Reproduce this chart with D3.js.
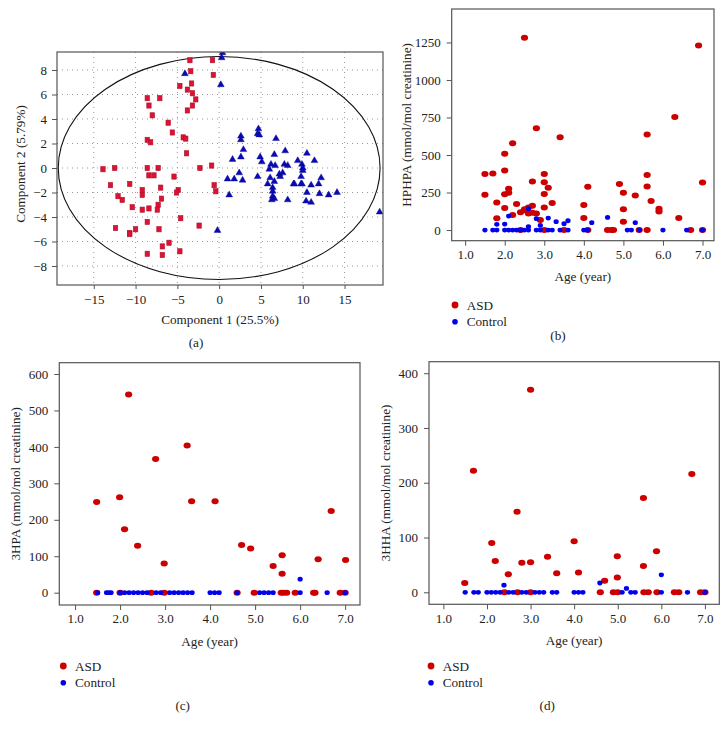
<!DOCTYPE html>
<html><head><meta charset="utf-8">
<script src="https://cdn.jsdelivr.net/npm/d3@7"></script>
<style>body{margin:0;background:#fff}svg{display:block}text{font-family:"Liberation Serif","Times New Roman",serif;fill:#222}</style>
</head><body><svg id="c" width="728" height="731"></svg>
<script>
// ---------- DATA ----------
// Panel (a): PCA scores [component1, component2]
const pcaASD = [[-3.5,8.8],[-0.8,8.8],[-3.4,7.9],[-0.7,7.6],[-3.3,6.9],[-4.7,6.7],[-3.8,6.4],[-3.2,6.1],[-2.8,5.6],[-8.6,5.7],[-7.1,5.7],[-8.4,5.1],[-3.2,5.1],[-3.8,4.7],[-8.0,4.3],[-6.1,3.7],[-5.6,2.9],[-4.3,2.5],[-4.0,2.4],[-8.6,2.3],[-8.2,2.1],[-3.9,1.2],[-13.9,-0.1],[-12.5,0.0],[-8.6,0.0],[-7.3,0.0],[-2.3,0.0],[-0.9,0.2],[-13.0,-1.4],[-10.7,-1.3],[-8.4,-0.6],[-7.8,-0.6],[-5.4,-0.7],[-7.0,-1.6],[-9.2,-1.8],[-9.2,-2.2],[-4.9,-1.8],[-5.1,-2.0],[-0.6,-1.4],[-0.4,-1.9],[-12.1,-2.3],[-11.6,-2.6],[-6.9,-2.5],[-10.4,-3.2],[-9.2,-3.4],[-8.4,-3.3],[-7.3,-3.0],[-7.4,-3.4],[-4.6,-4.1],[-8.6,-4.4],[-2.4,-4.7],[-12.4,-4.9],[-10.0,-5.0],[-10.7,-5.3],[-10.7,-5.4],[-7.2,-5.0],[-6.0,-6.1],[-6.8,-6.4],[-8.6,-7.0],[-6.8,-7.1],[-4.7,-6.8]];
const pcaControl = [[0.4,9.4],[0.3,9.0],[-4.1,7.7],[0.2,6.8],[-0.2,-5.1],[19.2,-3.6],[4.7,3.2],[4.6,2.8],[4.8,2.7],[2.6,2.6],[2.6,2.3],[6.8,2.4],[2.9,1.5],[1.6,0.7],[2.6,0.9],[4.9,0.9],[5.1,0.5],[6.6,1.1],[7.9,1.4],[10.5,1.2],[9.4,0.6],[11.4,0.6],[6.2,0.3],[6.7,0.2],[7.8,0.3],[8.2,0.2],[9.9,0.3],[10.0,0.0],[10.0,-0.2],[6.0,-0.1],[1.0,-0.9],[1.8,-0.9],[2.8,-1.0],[2.4,-0.4],[4.6,-0.7],[6.1,-0.8],[7.2,-0.5],[7.6,-0.4],[7.3,-0.7],[6.6,-1.1],[5.8,-1.3],[6.4,-1.6],[6.4,-1.9],[6.4,-2.3],[6.6,-2.5],[6.3,-2.6],[8.9,-1.3],[9.0,-1.3],[9.8,-1.3],[9.8,-0.7],[9.9,-1.3],[11.0,-1.4],[12.2,-0.8],[11.9,-1.3],[10.5,-2.0],[12.0,-2.1],[13.1,-2.2],[14.1,-2.0],[8.2,-2.6],[10.4,-2.7],[11.0,-2.8],[1.2,-2.2]];
const pcaXTicks = [-15,-10,-5,0,5,10,15];
const pcaYTicks = [-8,-6,-4,-2,0,2,4,6,8];
const pcaEllipse = {rx:19.25, ry:9.1};

// Panel (b): HPHPA [age, value]
const hphpaASD = [[2.5,1282],[6.9,1229],[6.3,753],[2.8,678],[3.4,618],[2.2,578],[2.0,509],[5.6,636],[1.5,373],[1.7,376],[2.0,396],[3.0,373],[5.6,367],[4.9,307],[7.0,316],[1.5,236],[2.0,238],[2.1,276],[2.1,249],[2.7,324],[3.0,318],[3.0,240],[3.1,282],[4.1,289],[5.0,249],[5.3,231],[5.6,291],[5.7,193],[1.8,184],[2.0,147],[2.3,173],[3.2,180],[2.7,162],[2.6,151],[3.0,151],[4.0,167],[5.9,142],[5.9,124],[5.0,138],[1.8,78],[2.2,100],[2.4,118],[2.5,138],[2.6,111],[2.7,116],[2.8,111],[2.9,67],[4.0,80],[5.0,56],[6.4,80],[2.55,131],[3.0,0],[3.5,0],[4.1,0],[4.6,0],[4.7,0],[4.75,0],[5.4,0],[5.6,0],[6.7,0],[7.0,0],[2.4,0]];
const hphpaControl = [[1.5,0],[1.7,0],[1.8,0],[2.0,0],[2.1,0],[2.2,0],[2.3,0],[2.4,0],[2.5,0],[2.6,0],[2.8,0],[2.9,0],[3.1,0],[3.2,0],[3.4,0],[3.6,0],[4.0,0],[4.1,0],[5.1,0],[5.2,0],[5.4,0],[6.0,0],[6.6,0],[7.0,0],[1.8,38],[2.0,40],[2.1,93],[2.6,142],[2.6,22],[2.8,76],[2.9,31],[3.1,80],[3.3,56],[3.5,42],[3.6,62],[4.2,49],[4.6,84],[5.3,49]];
const hphpaYTicks = [0,250,500,750,1000,1250];

// Panel (c): 3HPA [age, value]
const hpaASD = [[2.19,544],[3.49,404],[2.79,367],[1.99,262],[1.48,249],[3.59,251],[4.11,251],[2.1,174],[2.39,129],[6.69,224],[2.98,80],[4.7,131],[4.9,121],[5.6,103],[5.4,73],[5.6,52],[6.4,92],[7.01,90],[1.48,0],[2.0,0],[2.69,0],[2.98,0],[4.6,0],[4.98,0],[5.58,0],[5.63,0],[5.7,0],[5.89,0],[6.3,0],[6.33,0],[6.89,0],[7.0,0]];
const hpaControl = [[1.5,0],[1.7,0],[1.75,0],[1.8,0],[2.0,0],[2.1,0],[2.2,0],[2.3,0],[2.4,0],[2.5,0],[2.6,0],[2.8,0],[2.9,0],[3.1,0],[3.2,0],[3.3,0],[3.4,0],[3.5,0],[3.6,0],[4.0,0],[4.1,0],[4.2,0],[4.6,0],[5.1,0],[5.2,0],[5.3,0],[5.4,0],[6.0,0],[6.6,0],[7.0,0],[6.0,37]];
const hpaYTicks = [0,100,200,300,400,500,600];

// Panel (d): 3HHA [age, value]
const hhaASD = [[3.0,370],[1.69,222],[6.7,216],[5.59,172],[2.69,147],[2.11,90],[4.0,93],[2.19,57],[2.8,54],[3.0,55],[3.39,65],[4.99,66],[5.89,75],[5.59,48],[2.49,33],[3.6,35],[4.1,36],[4.99,27],[4.7,21],[1.49,17],[2.4,0],[2.7,0],[3.0,0],[4.6,0],[4.9,0],[5.0,0],[5.6,0],[5.7,0],[5.9,0],[6.3,0],[6.4,0],[6.9,0],[7.0,0]];
const hhaControl = [[1.5,0],[1.7,0],[1.8,0],[2.0,0],[2.1,0],[2.2,0],[2.3,0],[2.5,0],[2.6,0],[2.8,0],[2.9,0],[3.1,0],[3.2,0],[3.3,0],[3.5,0],[3.6,0],[4.0,0],[4.1,0],[4.2,0],[5.1,0],[5.3,0],[5.4,0],[6.0,0],[6.6,0],[7.0,0],[2.39,13],[4.59,17],[5.2,7],[6.0,32]];
const hhaYTicks = [0,100,200,300,400];

const ageTicks = [1,2,3,4,5,6,7];
const legendLabels = ["ASD","Control"];
const colASD = "#cc0000", colCtrl = "#0000ee";

// ---------- DRAW ----------
const svg = d3.select("#c");
const frameCol = "#555";
const FONT = "Liberation Serif";

function styleAxis(a){
  a.attr("font-family",FONT).attr("font-size",13);
  a.select(".domain").remove();
  a.selectAll("line").attr("stroke",frameCol);
  a.selectAll("text").attr("fill","#222").style("font-family",FONT).style("font-size","13px");
}
const minusFmt = d=>d<0?"\u2212"+Math.abs(d):String(d);

// Panel (a)
(function(){
  const x = d3.scaleLinear().domain([-19.4,19.6]).range([57,383]);
  const y = d3.scaleLinear().domain([-9.55,9.47]).range([285,52]);
  const g = svg.append("g");
  g.append("defs").append("clipPath").attr("id","clipA").append("rect")
    .attr("x",57).attr("y",52).attr("width",326).attr("height",233);
  g.selectAll(".gx").data(pcaXTicks).join("line").attr("class","gx")
    .attr("x1",d=>x(d)).attr("x2",d=>x(d)).attr("y1",52).attr("y2",285)
    .attr("stroke","#999").attr("stroke-width",1).attr("stroke-dasharray","1,4");
  g.selectAll(".gy").data(pcaYTicks).join("line").attr("class","gy")
    .attr("y1",d=>y(d)).attr("y2",d=>y(d)).attr("x1",57).attr("x2",383)
    .attr("stroke","#999").attr("stroke-width",1).attr("stroke-dasharray","1,4");
  const ax = g.append("g").attr("transform","translate(0,285)")
    .call(d3.axisBottom(x).tickValues(pcaXTicks).tickSize(4).tickPadding(6).tickFormat(minusFmt));
  const ay = g.append("g").attr("transform","translate(57,0)")
    .call(d3.axisLeft(y).tickValues(pcaYTicks).tickSize(5).tickPadding(5).tickFormat(minusFmt));
  styleAxis(ax); styleAxis(ay);
  g.append("ellipse").attr("cx",x(0)).attr("cy",y(0))
    .attr("rx",x(pcaEllipse.rx)-x(0)).attr("ry",y(0)-y(pcaEllipse.ry))
    .attr("fill","none").attr("stroke","#111").attr("stroke-width",1.1);
  const pts = g.append("g").attr("clip-path","url(#clipA)");
  pts.selectAll("rect").data(pcaASD).join("rect")
    .attr("x",d=>x(d[0])-2.2).attr("y",d=>y(d[1])-2.6).attr("width",4.4).attr("height",5.2)
    .attr("fill","#dd1133").attr("stroke","#b0102a").attr("stroke-width",0.6);
  const tri = d3.symbol().type(d3.symbolTriangle).size(20);
  pts.selectAll("path").data(pcaControl).join("path")
    .attr("d",tri).attr("transform",d=>`translate(${x(d[0])},${y(d[1])})`)
    .attr("fill","#0a0ab0").attr("stroke","#0000a0").attr("stroke-width",0.4);
  g.append("rect").attr("x",57).attr("y",52).attr("width",326).attr("height",233)
    .attr("fill","none").attr("stroke",frameCol).attr("stroke-width",1.2);
  g.append("text").attr("x",220).attr("y",323.5).attr("text-anchor","middle").style("font-size","13.2px").text("Component 1 (25.5%)");
  g.append("text").attr("transform","translate(24.5,164) rotate(-90)").attr("text-anchor","middle").style("font-size","13.2px").text("Component 2 (5.79%)");
  g.append("text").attr("x",196).attr("y",347).attr("text-anchor","middle").style("font-size","13.2px").text("(a)");
})();

function scatterPanel(o){
  const x = d3.scaleLinear().domain(o.xd).range([o.l,o.r]);
  const y = d3.scaleLinear().domain(o.yd).range([o.b,o.t]);
  const g = svg.append("g");
  const ax = g.append("g").attr("transform",`translate(0,${o.b})`)
    .call(d3.axisBottom(x).tickValues(ageTicks).tickSize(5).tickPadding(4).tickFormat(d3.format(".1f")));
  const ay = g.append("g").attr("transform",`translate(${o.l},0)`)
    .call(d3.axisLeft(y).tickValues(o.yt).tickSize(5).tickPadding(6).tickFormat(d3.format("d")));
  styleAxis(ax); styleAxis(ay);
  g.selectAll(".asd").data(o.asd).join("ellipse").attr("class","asd")
    .attr("cx",d=>x(d[0])).attr("cy",d=>y(d[1])).attr("rx",3.6).attr("ry",3.0).attr("fill",colASD);
  g.selectAll(".ctl").data(o.ctl).join("ellipse").attr("class","ctl")
    .attr("cx",d=>x(d[0])).attr("cy",d=>y(d[1])).attr("rx",2.6).attr("ry",2.4).attr("fill",colCtrl);
  g.append("rect").attr("x",o.l).attr("y",o.t).attr("width",o.r-o.l).attr("height",o.b-o.t)
    .attr("fill","none").attr("stroke",frameCol).attr("stroke-width",1.2);
  g.append("text").attr("x",(o.l+o.r)/2).attr("y",o.b+40.5).attr("text-anchor","middle").style("font-size","13.2px").text("Age (year)");
  g.append("text").attr("transform",`translate(${o.ylx},${(o.t+o.b)/2}) rotate(-90)`).attr("text-anchor","middle").style("font-size","13.2px").text(o.ylab);
  const lg = g.append("g");
  legendLabels.forEach((lab,i)=>{
    lg.append("circle").attr("cx",o.lgx).attr("cy",o.lgy+i*16.7).attr("r",i?2.8:3.4).attr("fill",i?colCtrl:colASD);
    lg.append("text").attr("x",o.lgx+11.7).attr("y",o.lgy+i*16.7+4.5).style("font-size","13.2px").text(lab);
  });
  g.append("text").attr("x",o.capx).attr("y",o.capy).attr("text-anchor","middle").style("font-size","13.2px").text(o.cap);
}

scatterPanel({xd:[0.66,7.29], yd:[-71,1473], l:451.7, r:714, t:9, b:240.7, yt:hphpaYTicks,
  asd:hphpaASD, ctl:hphpaControl, ylab:"HPHPA (mmol/mol creatinine)", ylx:411, lgx:455, lgy:305, cap:"(b)", capx:558, capy:339.5});
scatterPanel({xd:[0.65,7.33], yd:[-33.8,631], l:59.3, r:360, t:362.7, b:605, yt:hpaYTicks,
  asd:hpaASD, ctl:hpaControl, ylab:"3HPA (mmol/mol creatinine)", ylx:19.5, lgx:63.3, lgy:666, cap:"(c)", capx:182.7, capy:709.5});
scatterPanel({xd:[0.67,7.33], yd:[-21.9,421], l:429, r:719.3, t:361.7, b:604.3, yt:hhaYTicks,
  asd:hhaASD, ctl:hhaControl, ylab:"3HHA (mmol/mol creatinine)", ylx:389.5, lgx:431, lgy:666, cap:"(d)", capx:547.3, capy:709.5});
</script></body></html>
